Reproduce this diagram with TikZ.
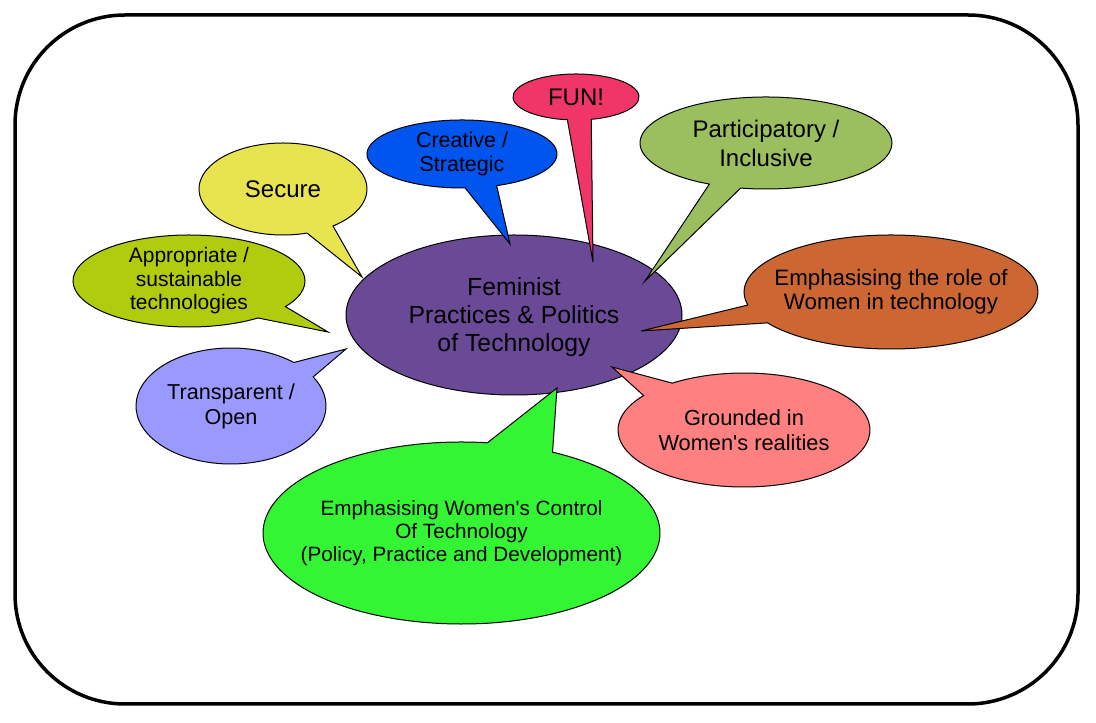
\documentclass[tikz,border=0pt]{standalone}
\usepackage{fontspec}
\setmainfont{Liberation Sans}[Ligatures=TeXOff]
\usepackage{tikz}
\definecolor{hubfill}{HTML}{6A4A96}
\definecolor{securefill}{HTML}{E8E450}
\definecolor{approfill}{HTML}{B0CC0E}
\definecolor{transfill}{HTML}{9999FF}
\definecolor{creafill}{HTML}{0055EE}
\definecolor{funfill}{HTML}{F03668}
\definecolor{partfill}{HTML}{9BBF5F}
\definecolor{rolefill}{HTML}{CC6633}
\definecolor{groundfill}{HTML}{FF8080}
\definecolor{controlfill}{HTML}{33F533}

% speech bubble: node style, fill, centre, x radius, y radius,
% tail angles (start < end), tail tip, text
\newcommand\speech[9]{%
  \draw[bubble, fill=#2] ([shift={(#6:#4 and #5)}]#3) -- (#8)
    -- ([shift={(#7:#4 and #5)}]#3)
    arc[start angle=#7, end angle=#6+360, x radius=#4, y radius=#5] -- cycle;
  \node[#1] at (#3) {#9};}

\begin{document}
\begin{tikzpicture}[x=1pt, y=1pt,
  bubble/.style={draw=black, line width=1pt},
  frame/.style={draw=black, line width=3.5pt, rounded corners=110pt},
  txt/.style={align=center, inner sep=0pt, text=black,
              font=\fontsize{21.5}{24}\selectfont},
  bigtxt/.style={txt, font=\fontsize{24}{29}\selectfont}
]
\useasboundingbox[fill=white] (0,0) rectangle (1096,723);
\draw[frame] (15,19) rectangle (1078,708);

% hub
\draw[bubble, fill=hubfill] (514,408) ellipse[x radius=168, y radius=80];
\node[bigtxt, font=\fontsize{24.8}{28}\selectfont] (hub) at (514,406)
  {Feminist\\Practices \& Politics\\of Technology};

% bubbles round the hub
\speech{bigtxt, name=secure}{securefill}{283,534}{84}{46}{-73.4}{-53.5}{362,446}
  {Secure}
\speech{txt, name=appropriate, font=\fontsize{21}{23.5}\selectfont}{approfill}
  {189,442}{116}{46}{-53.5}{-33.8}{328,391}
  {Appropriate /\\sustainable\\technologies}
\speech{txt, name=transparent, font=\fontsize{21.6}{25}\selectfont}{transfill}
  {231,317}{95}{58}{30.1}{48.6}{346,374}
  {Transparent /\\Open}
\speech{txt, name=creative}{creafill}{462,569}{95}{34}{-88.1}{-68.6}{510,479}
  {Creative /\\Strategic}
\speech{bigtxt, name=fun}{funfill}{576,626}{63}{23}{-97.9}{-76}{593,461}
  {FUN!}
\speech{bigtxt, name=participatory}{partfill}{766,580}{126}{46}{-116.7}{-101.6}{645,442}
  {Participatory /\\Inclusive}
\speech{txt, name=role, font=\fontsize{22.3}{24}\selectfont}{rolefill}
  {891,431}{147}{57}{-166.8}{-147.2}{641,392}
  {Emphasising the role of\\Women in technology}
\speech{txt, name=grounded, font=\fontsize{21.8}{24.5}\selectfont}{groundfill}
  {744,293}{126}{57}{124.7}{142.8}{612,356}
  {Grounded in\\Women's realities}
\speech{txt, name=control, font=\fontsize{20.7}{23}\selectfont}{controlfill}
  {461.5,190}{198.5}{91}{62.7}{82.5}{557,335}
  {Emphasising Women's Control\\Of Technology\\(Policy, Practice and Development)}
\end{tikzpicture}
\end{document}
